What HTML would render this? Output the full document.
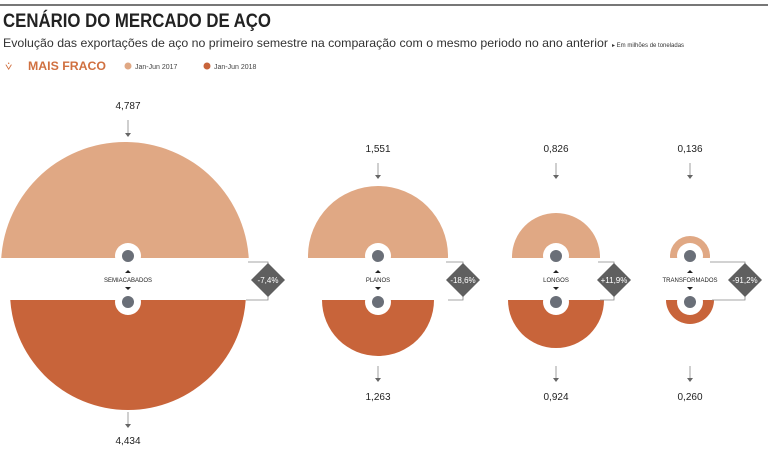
<!DOCTYPE html>
<html><head><meta charset="utf-8"><style>
body{margin:0;background:#fff;width:768px;height:457px;overflow:hidden;font-family:"Liberation Sans",sans-serif}
</style></head><body>
<svg width="768" height="457" viewBox="0 0 768 457" xmlns="http://www.w3.org/2000/svg" font-family="Liberation Sans, sans-serif">
<rect x="0" y="4" width="768" height="2" fill="#777"/>
<text x="3" y="27" font-size="19" font-weight="bold" fill="#222" textLength="268" lengthAdjust="spacingAndGlyphs">CENÁRIO DO MERCADO DE AÇO</text>
<text x="3" y="47" font-size="12" fill="#333" textLength="605" lengthAdjust="spacingAndGlyphs">Evolução das exportações de aço no primeiro semestre na comparação com o mesmo periodo no ano anterior</text>
<text x="612" y="47" font-size="6" fill="#333">▸ Em milhões de toneladas</text>
<text x="5" y="70" font-size="12" fill="#d07040">⩒</text>
<text x="28" y="70" font-size="12" font-weight="bold" fill="#d07040" textLength="78" lengthAdjust="spacingAndGlyphs">MAIS FRACO</text>
<circle cx="128" cy="66" r="3.5" fill="#e0a884"/><text x="135" y="69" font-size="7" fill="#444">Jan-Jun 2017</text>
<circle cx="207" cy="66" r="3.5" fill="#c8643a"/><text x="214" y="69" font-size="7" fill="#444">Jan-Jun 2018</text>
<defs><clipPath id="up"><rect x="0" y="0" width="768" height="258"/></clipPath><clipPath id="dn"><rect x="0" y="300" width="768" height="160"/></clipPath></defs>
<g clip-path="url(#up)" fill="#e0a884">
<circle cx="125" cy="266" r="124"/>
<circle cx="378" cy="256" r="70"/>
<circle cx="556" cy="257" r="44"/>
<circle cx="690" cy="256" r="20"/>
</g>
<circle cx="690" cy="256" r="12" fill="#fff"/>
<g clip-path="url(#dn)" fill="#c8643a">
<circle cx="128" cy="292" r="118"/>
<circle cx="378" cy="300" r="56"/>
<circle cx="556" cy="300" r="48"/>
<circle cx="690" cy="300" r="24"/>
</g>
<g fill="#fff"><circle cx="128" cy="256" r="13"/><circle cx="128" cy="302" r="13"/>
<circle cx="378" cy="256" r="13"/><circle cx="378" cy="302" r="13"/>
<circle cx="556" cy="256" r="13"/><circle cx="556" cy="302" r="13"/>
<circle cx="690" cy="256" r="13"/><circle cx="690" cy="302" r="13"/></g>
<g fill="#6a6f78"><circle cx="128" cy="256" r="6"/><circle cx="128" cy="302" r="6"/>
<circle cx="378" cy="256" r="6"/><circle cx="378" cy="302" r="6"/>
<circle cx="556" cy="256" r="6"/><circle cx="556" cy="302" r="6"/>
<circle cx="690" cy="256" r="6"/><circle cx="690" cy="302" r="6"/></g>
<g fill="#222" font-size="6" text-anchor="middle">
<text x="128" y="282">SEMIACABADOS</text><text x="378" y="282">PLANOS</text><text x="556" y="282">LONGOS</text><text x="690" y="282">TRANSFORMADOS</text>
<path d="M125,273h6l-3,-3z M125,287h6l-3,3z M375,273h6l-3,-3z M375,287h6l-3,3z M553,273h6l-3,-3z M553,287h6l-3,3z M687,273h6l-3,-3z M687,287h6l-3,3z"/>
</g>
<g stroke="#888" stroke-width="0.8" fill="none">
<path d="M248,262h20v4 M268,294v6h-22"/>
<path d="M446,262h17v4 M463,294v6h-15"/>
<path d="M598,262h16v4 M614,294v6h-14"/>
<path d="M710,262h35v4 M745,294v6h-33"/>
<path d="M128,120v15 M378,163v14 M556,163v14 M690,163v14 M128,412v14 M378,366v14 M556,366v14 M690,366v14"/>
</g>
<g fill="#666"><path d="M125,133l3,4l3,-4z M375,175l3,4l3,-4z M553,175l3,4l3,-4z M687,175l3,4l3,-4z M125,424l3,4l3,-4z M375,378l3,4l3,-4z M553,378l3,4l3,-4z M687,378l3,4l3,-4z"/></g>
<g fill="#5f5f5f"><path d="M268,263l17,17l-17,17l-17,-17z"/><path d="M463,263l17,17l-17,17l-17,-17z"/><path d="M614,263l17,17l-17,17l-17,-17z"/><path d="M745,263l17,17l-17,17l-17,-17z"/></g>
<g fill="#fff" font-size="8" text-anchor="middle"><text x="268" y="283">-7,4%</text><text x="463" y="283">-18,6%</text><text x="614" y="283">+11,9%</text><text x="745" y="283">-91,2%</text></g>
<g fill="#222" font-size="10" text-anchor="middle">
<text x="128" y="109">4,787</text><text x="378" y="152">1,551</text><text x="556" y="152">0,826</text><text x="690" y="152">0,136</text>
<text x="128" y="444">4,434</text><text x="378" y="400">1,263</text><text x="556" y="400">0,924</text><text x="690" y="400">0,260</text>
</g>
</svg>
</body></html>
